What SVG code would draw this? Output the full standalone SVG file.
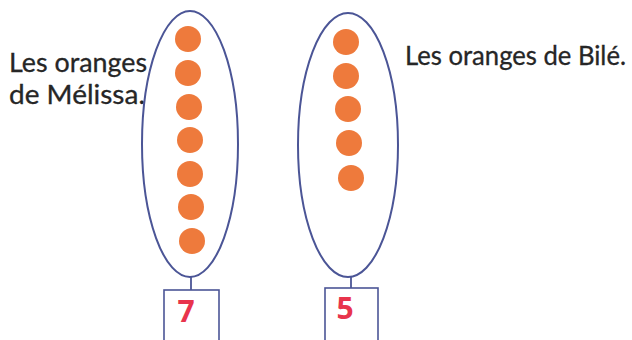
<svg xmlns="http://www.w3.org/2000/svg" width="632" height="340" viewBox="0 0 632 340">
<style>
.oval{fill:none;stroke:#4b5596;stroke-width:2}
.box{fill:#fff;stroke:#4b5596;stroke-width:1.6}
.stem{stroke:#4b5596;stroke-width:1.8}
.orange{fill:#ee7a3c}
.lbl{font-family:Lato,"Open Sans","Liberation Sans",sans-serif;font-size:26.5px;fill:#262626;stroke:#262626;stroke-width:0.3}
.num{font-family:"Open Sans","Liberation Sans",sans-serif;font-size:30px;font-weight:bold;fill:#e8344c;text-anchor:middle}
</style>
<rect width="632" height="340" fill="#fff"/>
<g id="label-melissa">
<text class="lbl" x="9" y="72" textLength="138" lengthAdjust="spacingAndGlyphs">Les oranges</text>
<text class="lbl" x="9" y="104" textLength="136" lengthAdjust="spacingAndGlyphs">de Mélissa.</text>
</g>
<g id="label-bile">
<text class="lbl" x="405" y="65" textLength="221" lengthAdjust="spacingAndGlyphs">Les oranges de Bilé.</text>
</g>
<g id="melissa">
<ellipse class="oval" cx="190" cy="144" rx="48" ry="133"/>
<circle class="orange" cx="188" cy="39" r="13"/>
<circle class="orange" cx="188" cy="73" r="13"/>
<circle class="orange" cx="189" cy="107" r="13"/>
<circle class="orange" cx="190" cy="140" r="13"/>
<circle class="orange" cx="190" cy="174" r="13"/>
<circle class="orange" cx="191" cy="207" r="13"/>
<circle class="orange" cx="192" cy="241" r="13"/>
</g>
<g id="bile">
<ellipse class="oval" cx="348" cy="145" rx="50" ry="132"/>
<circle class="orange" cx="346" cy="42" r="13"/>
<circle class="orange" cx="346" cy="76" r="13"/>
<circle class="orange" cx="348" cy="109" r="13"/>
<circle class="orange" cx="349" cy="143" r="13"/>
<circle class="orange" cx="351" cy="178" r="13"/>
</g>
<g id="connectors">
<line class="stem" x1="191" y1="277" x2="191" y2="290"/>
<line class="stem" x1="351" y1="277" x2="351" y2="288"/>
</g>
<g id="box-7">
<rect class="box" x="164" y="290" width="55" height="60"/>
<text class="num" x="186" y="322">7</text>
</g>
<g id="box-5">
<rect class="box" x="325" y="288" width="53" height="62"/>
<text class="num" x="345" y="319">5</text>
</g>
</svg>
